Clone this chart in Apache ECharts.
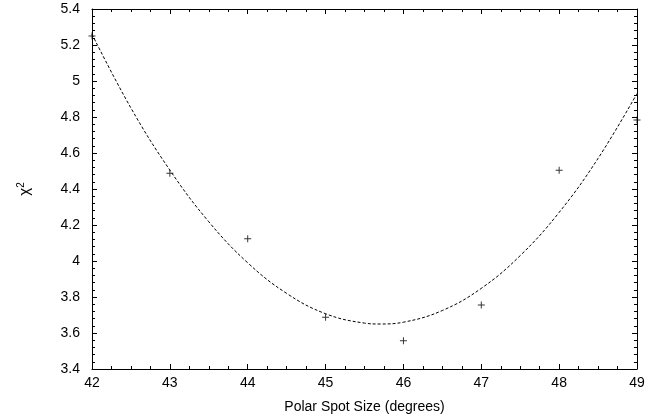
<!DOCTYPE html>
<html>
<head>
<meta charset="utf-8">
<script src="https://cdn.jsdelivr.net/npm/echarts@6/dist/echarts.min.js"></script>
<style>html,body{margin:0;padding:0;background:#fff;}#c{width:660px;height:419px;}</style>
</head>
<body>
<div id="c"></div>
<script>
// Measured points (polar spot size in degrees, chi^2)
var spotSizes = [42, 43, 44, 45, 46, 47, 48, 49];
var chi2Values = [5.25, 4.487, 4.124, 3.687, 3.557, 3.756, 4.504, 4.783];
// Fitted curve
var fitX = [42, 42.5, 43, 43.5, 44, 44.5, 45, 45.5, 45.7, 46, 46.5, 47, 47.5, 48, 48.5, 49];
var fitY = [5.26, 4.85, 4.505, 4.218, 3.99, 3.82, 3.707, 3.655, 3.65, 3.66, 3.725, 3.848, 4.03, 4.27, 4.57, 4.93];
var xTickMin = 42, xTickMax = 49, xTickStep = 1;
var yTickMin = 3.4, yTickMax = 5.4, yTickStep = 0.2;
var xTitle = 'Polar Spot Size (degrees)';

var font = 'Liberation Sans, Arial, Helvetica, sans-serif';
var pointData = spotSizes.map(function (x, i) { return [x, chi2Values[i]]; });
var fitData = fitX.map(function (x, i) { return [x, fitY[i]]; });

var chart = echarts.init(document.getElementById('c'), null, {renderer: 'canvas'});
var axisCommon = {
  axisLine: {show: true, lineStyle: {color: '#000', width: 1}},
  axisTick: {show: true, inside: true, length: 5, lineStyle: {color: '#000', width: 1}},
  minorTick: {show: true, length: 3, lineStyle: {color: '#000', width: 1}},
  splitLine: {show: false}
};
function xAx(pos, showLabel) {
  return Object.assign({}, axisCommon, {
    type: 'value', position: pos, min: xTickMin, max: xTickMax, interval: xTickStep,
    minorTick: Object.assign({}, axisCommon.minorTick, {splitNumber: 4}),
    axisLabel: {show: showLabel, color: '#000', fontFamily: font, fontSize: 14, margin: 7},
    name: showLabel ? xTitle : '', nameLocation: 'middle', nameGap: 31,
    nameTextStyle: {color: '#000', fontFamily: font, fontSize: 14}
  });
}
function yAx(pos, showLabel) {
  return Object.assign({}, axisCommon, {
    type: 'value', position: pos, min: yTickMin, max: yTickMax, interval: yTickStep,
    minorTick: Object.assign({}, axisCommon.minorTick, {splitNumber: 5}),
    axisLabel: {show: showLabel, color: '#000', fontFamily: font, fontSize: 14, margin: 12},
    name: showLabel ? '{c|χ}{s|2}' : '', nameLocation: 'middle', nameGap: 58, nameRotate: 90,
    nameTextStyle: {
      color: '#000', fontFamily: font, fontSize: 14,
      rich: {
        c: {fontFamily: font, fontSize: 15, color: '#000'},
        s: {fontFamily: font, fontSize: 10, color: '#000', verticalAlign: 'top', padding: [0, 0, 8, 0]}
      }
    }
  });
}
chart.setOption({
  animation: false,
  backgroundColor: '#fff',
  grid: {left: 92, right: 23, top: 9, bottom: 50},
  xAxis: [xAx('bottom', true), xAx('top', false)],
  yAxis: [yAx('left', true), yAx('right', false)],
  series: [
    {
      type: 'line', data: fitData, smooth: 0.4, symbol: 'none',
      lineStyle: {color: '#000', width: 1, type: [3, 2]}
    },
    {
      type: 'scatter', data: pointData, clip: false,
      symbol: 'path://M0,4.3H10V5.7H0Z M4.3,0H5.7V10H4.3Z', symbolSize: 7,
      itemStyle: {color: '#000'}
    }
  ]
});
</script>
</body>
</html>
